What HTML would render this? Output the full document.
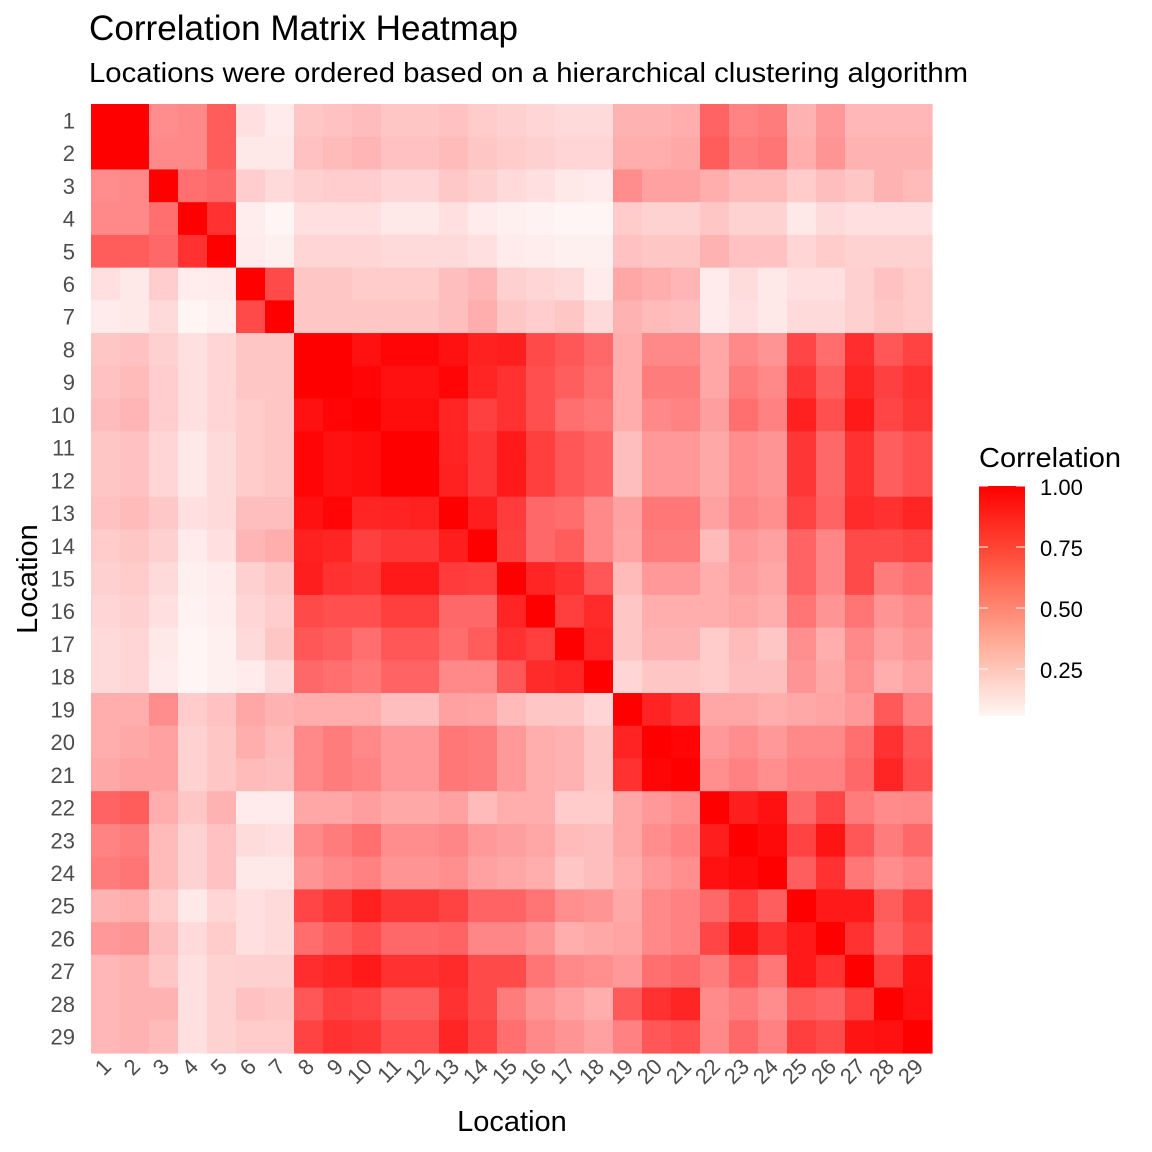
<!DOCTYPE html>
<html><head><meta charset="utf-8"><style>
body{margin:0;background:#fff;}
svg{display:block;font-family:"Liberation Sans",Arial,sans-serif;}
</style></head><body>
<svg id="s" width="1152" height="1152" xmlns="http://www.w3.org/2000/svg">
<defs><linearGradient id="g" x1="0" y1="0" x2="0" y2="1">
<stop offset="0" stop-color="#ff0000"/><stop offset="0.35" stop-color="#ff5a44"/><stop offset="0.7" stop-color="#ffb09c"/><stop offset="1" stop-color="#fff6f4"/></linearGradient></defs>
<rect width="1152" height="1152" fill="#fff"/>
<text x="89" y="40" font-size="35" fill="#000" textLength="429" lengthAdjust="spacingAndGlyphs">Correlation Matrix Heatmap</text>
<text x="89" y="82" font-size="28" fill="#000" textLength="879" lengthAdjust="spacingAndGlyphs">Locations were ordered based on a hierarchical clustering algorithm</text>
<g id="cells"></g>
<g id="labs" font-size="22" fill="#4d4d4d"></g>
<text x="512" y="1131" font-size="29" text-anchor="middle" fill="#000">Location</text>
<text transform="translate(37,579) rotate(-90)" font-size="29" text-anchor="middle" fill="#000">Location</text>
<text x="979" y="467" font-size="28" fill="#000" textLength="142" lengthAdjust="spacingAndGlyphs">Correlation</text>
<rect x="979" y="486" width="46" height="230" fill="url(#g)"/>
<g stroke="#fff" stroke-width="1.2" opacity="0.8">
<line x1="979" y1="486" x2="988" y2="486"/><line x1="1016" y1="486" x2="1025" y2="486"/>
<line x1="979" y1="547" x2="988" y2="547"/><line x1="1016" y1="547" x2="1025" y2="547"/>
<line x1="979" y1="608" x2="988" y2="608"/><line x1="1016" y1="608" x2="1025" y2="608"/>
<line x1="979" y1="669" x2="988" y2="669"/><line x1="1016" y1="669" x2="1025" y2="669"/>
</g>
<g font-size="22" fill="#000">
<text x="1040" y="495">1.00</text><text x="1040" y="556">0.75</text>
<text x="1040" y="617">0.50</text><text x="1040" y="678">0.25</text>
</g>
</svg>
<script>
var R=[
[10,10,4.3,4.5,6.3,1,0.8,2,2.2,2.4,2,2,2.2,1.8,1.6,1.4,1.2,1.2,2.8,2.8,3,6,4.7,5,2.8,3.8,2.6,2.6,2.6],
[10,10,4.5,4.5,6.3,0.9,0.9,2.2,2.5,2.7,2.2,2.2,2.5,2,1.8,1.6,1.4,1.4,3,3,3.2,6.3,5,5.3,3,4,2.8,2.8,2.8],
[4.3,4.5,10,5.5,5.8,1.7,1.2,1.6,1.7,1.7,1.4,1.4,1.9,1.6,1.2,1,0.9,0.8,4.3,3.5,3.5,3,2.5,2.5,1.8,2.3,2,2.8,2.5],
[4.5,4.5,5.5,10,8,0.7,0.4,1,1,1,0.9,0.9,1,0.8,0.6,0.5,0.4,0.4,1.8,1.5,1.5,2,1.5,1.5,0.9,1.2,1,1,1],
[6.3,6.3,5.8,8,10,0.8,0.6,1.4,1.4,1.4,1.2,1.2,1.2,1,0.8,0.7,0.6,0.6,2.2,2,2,2.8,2.2,2.2,1.4,1.8,1.5,1.5,1.5],
[1,0.9,1.7,0.7,0.8,10,7,2,2,1.8,1.8,1.8,2.3,2.7,1.6,1.4,1.2,0.8,3.3,3,2.7,0.8,1.1,0.9,1,1,1.6,2.2,1.8],
[0.8,0.9,1.2,0.4,0.6,7,10,2,2,2,2,2,2.3,3,2,1.7,2,1.2,2.8,2.5,2.3,0.8,1,0.9,1.2,1.2,1.6,2,1.8],
[2,2.2,1.6,1,1.4,2,2,10,10,9.3,9.8,9.8,9.3,8.7,8.8,7,6.5,5.8,3,4.5,4.5,3.3,4.5,4,7.2,5.6,8.2,6.5,7.3],
[2.2,2.5,1.7,1,1.4,2,2,10,10,9.8,9.3,9.3,9.8,8.5,8,6.8,6.2,5.5,3,5,5,3.3,5,4.5,7.8,6.2,8.5,7.4,8],
[2.4,2.7,1.7,1,1.4,1.8,2,9.3,9.8,10,9.5,9.5,8.5,7.4,8,6.8,5.5,5.2,3,4.5,4.7,3.6,5.5,4.8,8.7,6.8,9,7.2,7.8],
[2,2.2,1.4,0.9,1.2,1.8,2,9.8,9.3,9.5,10,10,8.6,7.8,9,7.5,6.5,6,2.3,3.8,3.8,3.2,4.3,4,7.8,5.8,8,6.2,6.8],
[2,2.2,1.4,0.9,1.2,1.8,2,9.8,9.3,9.5,10,10,8.7,7.8,9,7.5,6.5,6,2.3,3.8,3.8,3.2,4.3,4,7.8,5.8,8,6.2,6.8],
[2.2,2.5,1.9,1,1.2,2.3,2.3,9.3,9.8,8.5,8.6,8.7,10,8.8,7.6,5.8,5.6,4.5,3.5,5.2,5.2,3.5,4.6,4.2,7.3,6,8.3,8,8.5],
[1.8,2,1.6,0.8,1,2.7,3,8.7,8.5,7.4,7.8,7.8,8.8,10,7.5,5.8,6.3,4.5,3.4,5,5,2.5,3.8,3.5,6,4.6,7,7,7.3],
[1.6,1.8,1.2,0.6,0.8,1.6,2,8.8,8,7.8,9,9,7.6,7.5,10,8.5,8,6.5,2.5,3.8,3.8,3,3.6,3.3,6,4.6,7,5,5.5],
[1.4,1.6,1,0.5,0.7,1.4,1.7,7,6.8,6.8,7.5,7.5,5.8,5.8,8.5,10,7.5,8.3,2,3,3,3,3.3,3,5.3,4,5.3,4,4.5],
[1.2,1.4,0.9,0.4,0.6,1.2,2,6.5,6.2,5.5,6.5,6.5,5.6,6.3,8,7.5,10,8.5,2,2.8,2.8,1.8,2.5,2,4.2,3,4.5,3.5,4],
[1.2,1.4,0.8,0.4,0.6,0.8,1.2,5.8,5.5,5.2,6,6,4.5,4.5,6.5,8.3,8.5,10,1.4,2,2,1.8,2.3,2.3,4,3.2,4.2,3,3.5],
[3,3,4.3,1.8,2.2,3.3,2.8,3,3,3,2.3,2.3,3.5,3.4,2.5,2,2,1.4,10,8.6,8,3.3,3.3,3,3.2,3.4,3.8,6.4,4.8],
[3,3.2,3.5,1.5,2,3,2.5,4.5,5,4.5,3.8,3.8,5.2,5,3.8,3,2.8,2,8.6,10,9.8,3.8,4.3,3.8,4.5,4.5,5.5,8,6.5],
[3.2,3.5,3.5,1.5,2,2.5,2.3,4.5,5,4.7,3.8,3.8,5.2,5,3.8,3,2.8,2,8,9.8,10,4.2,4.8,4.2,4.8,4.8,5.8,8.5,6.8],
[6,6.3,3,2,2.8,0.8,0.8,3.3,3.3,3.6,3.2,3.2,3.5,2.5,3,3,1.8,1.8,3.3,3.8,4.2,10,8.8,9.3,5.8,7.2,5,4.4,4.5],
[4.7,5,2.5,1.5,2.2,1.1,1,4.5,5,5.5,4.3,4.3,4.6,3.8,3.6,3.3,2.5,2.3,3.3,4.3,4.8,8.8,10,9.6,7.3,9.2,6.5,5,5.8],
[5,5.3,2.5,1.5,2.2,0.9,0.9,4,4.5,4.8,4,4,4.2,3.5,3.3,3,2,2.3,3,3.8,4.2,9.3,9.6,10,6.2,8,5.2,4.3,4.8],
[2.8,3,1.8,0.9,1.4,1,1.2,7.2,7.8,8.7,7.8,7.8,7.3,6,6,5.3,4.2,4,3.2,4.5,4.8,5.8,7.3,6.2,10,9,9,6.3,7.5],
[3.8,4,2.3,1.2,1.8,1,1.2,5.6,6.2,6.8,5.8,5.8,6,4.6,4.6,4,3,3.2,3.4,4.5,4.8,7.2,9.2,8,9,10,8,6,7],
[2.6,2.8,2,1,1.5,1.6,1.6,8.2,8.5,9,8,8,8.3,7,7,5.3,4.5,4.2,3.8,5.5,5.8,5,6.5,5.2,9,8,10,7.5,9.2],
[2.6,2.8,2.8,1,1.5,2.2,2,6.5,7.4,7.2,6.2,6.2,8,7,5,4,3.5,3,6.4,8,8.5,4.4,5,4.3,6.3,6,7.5,10,9.3],
[2.6,2.8,2.5,1,1.5,1.8,1.8,7.3,8,7.8,6.8,6.8,8.5,7.3,5.5,4.5,4,3.5,4.8,6.5,6.8,4.5,5.8,4.8,7.5,7,9.2,9.3,10]];
var NS="http://www.w3.org/2000/svg",x0=91,y0=104,w=(932-91)/29,h=(1053-104)/29;
var c=document.getElementById("cells"),L=document.getElementById("labs");
function el(n,a,p,t){var e=document.createElementNS(NS,n);for(var k in a)e.setAttribute(k,a[k]);if(t)e.textContent=t;p.appendChild(e);return e;}
for(var i=0;i<29;i++)for(var j=0;j<29;j++){var t=R[i][j]/10;var g=Math.round(255*(1-t)*(t<0.1?1:0.97));
if(g>245)g=245;el("rect",{x:(x0+j*w).toFixed(2),y:(y0+i*h).toFixed(2),width:(w+0.6).toFixed(2),height:(h+0.6).toFixed(2),fill:"rgb(255,"+g+","+g+")"},c);}
for(var i=0;i<29;i++){
el("text",{x:75,y:(y0+(i+0.5)*h+8).toFixed(1),"text-anchor":"end"},L,String(i+1));
var cx=x0+(i+0.5)*w+7,cy=1068;
el("text",{transform:"translate("+cx.toFixed(1)+","+cy+") rotate(-45)","text-anchor":"end"},L,String(i+1));
}
</script>
</body></html>
